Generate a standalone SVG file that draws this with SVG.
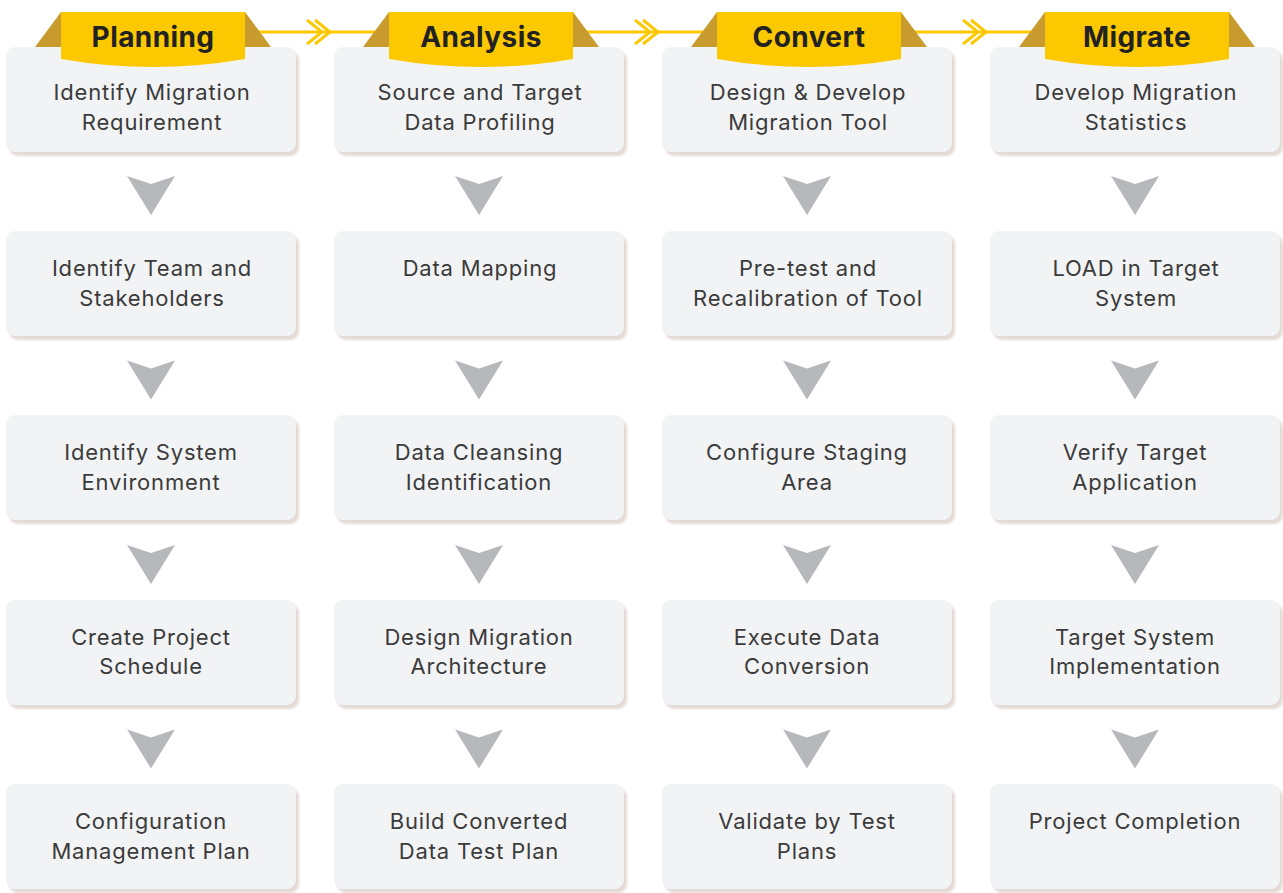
<svg xmlns="http://www.w3.org/2000/svg" width="1283" height="893" viewBox="0 0 1283 893">
  <style>
    .box { fill: #f2f3f5; }
    .shadow { fill: #e3dad6; }
    .txt { font-family: Inter, "Noto Sans", "Liberation Sans", sans-serif; font-size: 22px; letter-spacing: 0.8px; fill: #3b3b3b; text-anchor: middle; }
    .head { font-family: Inter, "Noto Sans", "Liberation Sans", sans-serif; font-size: 28px; letter-spacing: 0.4px; font-weight: 700; fill: #222; text-anchor: middle; }
    .banner { fill: #fcc900; }
    .wing { fill: #c89b2f; }
    .down { fill: #b7b8bc; }
    .flow { stroke: #fcc900; stroke-width: 3; fill: none; }
  </style>
  <defs>
    <filter id="soft" x="-5%" y="-5%" width="110%" height="120%">
      <feGaussianBlur stdDeviation="1.2"/>
    </filter>
    <!-- step card: shadow + card, 290 x 105 -->
    <g id="card">
      <rect class="shadow" x="3" y="4" width="290" height="105" rx="9" filter="url(#soft)"/>
      <rect class="box" x="0" y="0" width="290" height="105" rx="9"/>
    </g>
    <!-- phase banner with gold wings, centred on x = 0 -->
    <g id="banner">
      <polygon class="wing" points="-118,47 -92,12 -92,47"/>
      <polygon class="wing" points="92,12 118,47 92,47"/>
      <path class="banner" d="M-92,12 H92 V59 Q0,75 -92,59 Z"/>
    </g>
    <polygon id="downArrow" class="down" points="-24,176 0,184 24,176 0,215"/>
  </defs>

  <!-- connectors between phases -->
  <g id="connectors">
    <line class="flow" x1="240" y1="32" x2="400" y2="32"/>
    <line class="flow" x1="568" y1="32" x2="728" y2="32"/>
    <line class="flow" x1="896" y1="32" x2="1056" y2="32"/>
    <path class="flow" d="M307,20 L322,32 L307,44 M315,20 L330,32 L315,44" stroke-width="2.5"/>
    <path class="flow" d="M635,20 L650,32 L635,44 M643,20 L658,32 L643,44" stroke-width="2.5"/>
    <path class="flow" d="M963,20 L978,32 L963,44 M971,20 L986,32 L971,44" stroke-width="2.5"/>
    <!-- down arrows between cards -->
    <g>
      <use href="#downArrow" x="151" y="0"/><use href="#downArrow" x="151" y="184.5"/><use href="#downArrow" x="151" y="369"/><use href="#downArrow" x="151" y="553.5"/>
      <use href="#downArrow" x="479" y="0"/><use href="#downArrow" x="479" y="184.5"/><use href="#downArrow" x="479" y="369"/><use href="#downArrow" x="479" y="553.5"/>
      <use href="#downArrow" x="807" y="0"/><use href="#downArrow" x="807" y="184.5"/><use href="#downArrow" x="807" y="369"/><use href="#downArrow" x="807" y="553.5"/>
      <use href="#downArrow" x="1135" y="0"/><use href="#downArrow" x="1135" y="184.5"/><use href="#downArrow" x="1135" y="369"/><use href="#downArrow" x="1135" y="553.5"/>
    </g>
  </g>

  <!-- Planning column -->
  <g id="planning">
    <g id="p1"><use href="#card" x="6" y="47"/><text class="txt" x="152" y="100">Identify Migration</text><text class="txt" x="152" y="130">Requirement</text></g>
    <g id="p2"><use href="#card" x="6" y="231"/><text class="txt" x="152" y="276">Identify Team and</text><text class="txt" x="152" y="306">Stakeholders</text></g>
    <g id="p3"><use href="#card" x="6" y="415"/><text class="txt" x="151" y="460">Identify System</text><text class="txt" x="151" y="490">Environment</text></g>
    <g id="p4"><use href="#card" x="6" y="600"/><text class="txt" x="151" y="645">Create Project</text><text class="txt" x="151" y="674">Schedule</text></g>
    <g id="p5"><use href="#card" x="6" y="784"/><text class="txt" x="151" y="829">Configuration</text><text class="txt" x="151" y="859">Management Plan</text></g>
    <g id="h1"><use href="#banner" x="153" y="0"/><text class="head" x="153" y="47">Planning</text></g>
  </g>

  <!-- Analysis column -->
  <g id="analysis">
    <g id="a1"><use href="#card" x="334" y="47"/><text class="txt" x="480" y="100">Source and Target</text><text class="txt" x="480" y="130">Data Profiling</text></g>
    <g id="a2"><use href="#card" x="334" y="231"/><text class="txt" x="480" y="276">Data Mapping</text></g>
    <g id="a3"><use href="#card" x="334" y="415"/><text class="txt" x="479" y="460">Data Cleansing</text><text class="txt" x="479" y="490">Identification</text></g>
    <g id="a4"><use href="#card" x="334" y="600"/><text class="txt" x="479" y="645">Design Migration</text><text class="txt" x="479" y="674">Architecture</text></g>
    <g id="a5"><use href="#card" x="334" y="784"/><text class="txt" x="479" y="829">Build Converted</text><text class="txt" x="479" y="859">Data Test Plan</text></g>
    <g id="h2"><use href="#banner" x="481" y="0"/><text class="head" x="481" y="47">Analysis</text></g>
  </g>

  <!-- Convert column -->
  <g id="convert">
    <g id="c1"><use href="#card" x="662" y="47"/><text class="txt" x="808" y="100">Design &amp; Develop</text><text class="txt" x="808" y="130">Migration Tool</text></g>
    <g id="c2"><use href="#card" x="662" y="231"/><text class="txt" x="808" y="276">Pre-test and</text><text class="txt" x="808" y="306">Recalibration of Tool</text></g>
    <g id="c3"><use href="#card" x="662" y="415"/><text class="txt" x="807" y="460">Configure Staging</text><text class="txt" x="807" y="490">Area</text></g>
    <g id="c4"><use href="#card" x="662" y="600"/><text class="txt" x="807" y="645">Execute Data</text><text class="txt" x="807" y="674">Conversion</text></g>
    <g id="c5"><use href="#card" x="662" y="784"/><text class="txt" x="807" y="829">Validate by Test</text><text class="txt" x="807" y="859">Plans</text></g>
    <g id="h3"><use href="#banner" x="809" y="0"/><text class="head" x="809" y="47">Convert</text></g>
  </g>

  <!-- Migrate column -->
  <g id="migrate">
    <g id="m1"><use href="#card" x="990" y="47"/><text class="txt" x="1136" y="100">Develop Migration</text><text class="txt" x="1136" y="130">Statistics</text></g>
    <g id="m2"><use href="#card" x="990" y="231"/><text class="txt" x="1136" y="276">LOAD in Target</text><text class="txt" x="1136" y="306">System</text></g>
    <g id="m3"><use href="#card" x="990" y="415"/><text class="txt" x="1135" y="460">Verify Target</text><text class="txt" x="1135" y="490">Application</text></g>
    <g id="m4"><use href="#card" x="990" y="600"/><text class="txt" x="1135" y="645">Target System</text><text class="txt" x="1135" y="674">Implementation</text></g>
    <g id="m5"><use href="#card" x="990" y="784"/><text class="txt" x="1135" y="829">Project Completion</text></g>
    <g id="h4"><use href="#banner" x="1137" y="0"/><text class="head" x="1137" y="47">Migrate</text></g>
  </g>
</svg>
